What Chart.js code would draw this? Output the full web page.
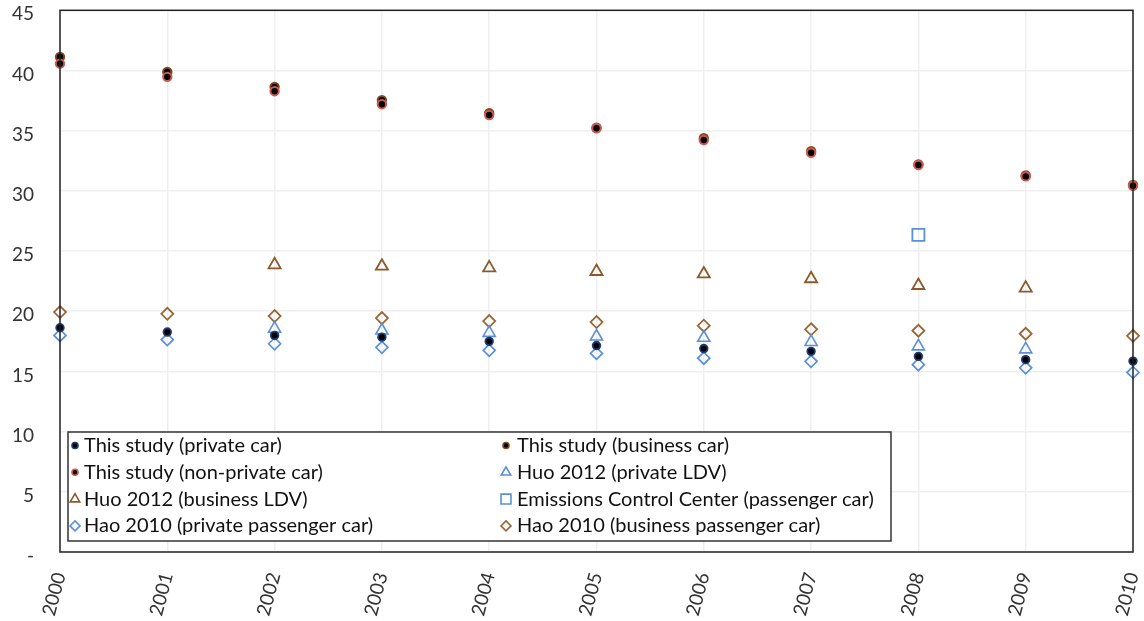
<!DOCTYPE html>
<html><head><meta charset="utf-8">
<script src="https://cdn.jsdelivr.net/npm/chart.js@4.4.0/dist/chart.umd.min.js"></script>
<style>html,body{margin:0;padding:0;background:#fff}#wrap{position:relative;width:1144px;height:621px}</style>
</head><body><div id="wrap"><canvas id="c" width="1144" height="621"></canvas></div>
<script>
const years = ['2000','2001','2002','2003','2004','2005','2006','2007','2008','2009','2010'];
const yTickValues = [0,5,10,15,20,25,30,35,40,45];
const labels = ['This study (private car)','This study (business car)','This study (non-private car)','Huo 2012 (private LDV)','Huo 2012 (business LDV)','Emissions Control Center (passenger car)','Hao 2010 (private passenger car)','Hao 2010 (business passenger car)'];
const privateCar  = [18.63,18.27,17.99,17.85,17.50,17.15,16.90,16.67,16.25,15.98,15.86];
const businessCar = [41.13,39.88,38.64,37.54,36.46,35.24,34.38,33.30,32.20,31.28,30.50];
const nonPrivateCar = [40.57,39.47,38.28,37.20,36.30,35.20,34.22,33.17,32.15,31.20,30.42];
const huoPrivate  = [null,null,18.55,18.40,18.20,17.90,17.80,17.45,17.08,16.83,null];
const huoBusiness = [null,null,23.86,23.74,23.60,23.30,23.10,22.70,22.14,21.92,null];
const eccPassenger = [null,null,null,null,null,null,null,null,26.34,null,null];
const haoPrivate  = [17.99,17.64,17.30,17.00,16.75,16.50,16.10,15.84,15.56,15.30,14.92];
const haoBusiness = [19.93,19.79,19.60,19.43,19.18,19.10,18.80,18.50,18.38,18.13,17.96];

const FONT = 'Lato, "Open Sans", sans-serif';
const CLEAR = 'rgba(255,255,255,0)';
function ds(label, data, style, bg, border, r, bw, lr, order) {
  return {label, data, showLine:false, pointStyle:style, pointBackgroundColor:bg, pointBorderColor:border,
    backgroundColor:bg, borderColor:border, pointRadius:r, pointHoverRadius:r, pointBorderWidth:bw,
    legendRadius:lr, clip:false, order:order||0};
}
const datasets = [
  ds(labels[0], privateCar, 'circle', '#000', '#1F3A6E', 3.8, 1.8, 3, 0),
  ds(labels[1], businessCar, 'circle', '#000', '#7F4A1E', 4.2, 2, 3, 1),
  ds(labels[2], nonPrivateCar, 'circle', '#000', '#D0584E', 4.2, 2, 3, 0),
  ds(labels[3], huoPrivate, 'triangle', CLEAR, '#5B8FD9', 7, 1.6, 5.5, 0),
  ds(labels[4], huoBusiness, 'triangle', CLEAR, '#8B5A2B', 7, 1.8, 5.5, 0),
  ds(labels[5], eccPassenger, 'rect', CLEAR, '#5B8FD9', 8.5, 1.8, 7, 0),
  ds(labels[6], haoPrivate, 'rectRot', CLEAR, '#5B8FD9', 6, 1.7, 5, 0),
  ds(labels[7], haoBusiness, 'rectRot', CLEAR, '#9A6634', 6, 1.8, 5, 0)
];

function marker(ctx, style, r, x, y) {
  ctx.beginPath();
  if (style === 'circle') { ctx.arc(x, y, r, 0, Math.PI*2); }
  else if (style === 'triangle') {
    ctx.moveTo(x, y - r); ctx.lineTo(x + r*0.866, y + r*0.5); ctx.lineTo(x - r*0.866, y + r*0.5); ctx.closePath();
  } else if (style === 'rect') { const s = r*Math.SQRT1_2; ctx.rect(x - s, y - s, 2*s, 2*s); }
  else if (style === 'rectRot') { ctx.moveTo(x, y - r); ctx.lineTo(x + r, y); ctx.lineTo(x, y + r); ctx.lineTo(x - r, y); ctx.closePath(); }
  ctx.fill(); ctx.stroke();
}

const framePlugin = {
  id: 'frameAndLegend',
  afterDraw(chart) {
    const ctx = chart.ctx, a = chart.chartArea;
    ctx.save();
    ctx.strokeStyle = '#222'; ctx.lineWidth = 1.5;
    ctx.strokeRect(a.left, a.top, a.right - a.left, a.bottom - a.top);
    const L = {x: 68, y: 432, w: 823, h: 109};
    ctx.fillStyle = '#fff'; ctx.fillRect(L.x, L.y, L.w, L.h);
    ctx.strokeStyle = '#333'; ctx.lineWidth = 1.5; ctx.strokeRect(L.x, L.y, L.w, L.h);
    ctx.font = '20px ' + FONT; ctx.textBaseline = 'middle'; ctx.textAlign = 'left';
    chart.data.datasets.forEach((d, i) => {
      const col = i % 2, row = Math.floor(i / 2);
      const mx = col ? 506 : 75, tx = col ? 517 : 84, ty = 445.5 + row * 26.8;
      ctx.fillStyle = d.pointBackgroundColor; ctx.strokeStyle = d.pointBorderColor; ctx.lineWidth = Math.min(d.pointBorderWidth, 1.6);
      marker(ctx, d.pointStyle, d.legendRadius, mx, ty);
      ctx.fillStyle = '#111';
      ctx.fillText(d.label, tx, ty);
    });
    ctx.restore();
  }
};

new Chart(document.getElementById('c'), {
  type: 'line',
  data: { labels: years, datasets },
  plugins: [framePlugin],
  options: {
    responsive: false, animation: false, devicePixelRatio: 1,
    layout: { padding: { top: 9, right: 11, left: 0, bottom: 0 } },
    plugins: { legend: { display: false }, tooltip: { enabled: false } },
    scales: {
      x: {
        type: 'category', offset: false,
        grid: { color: '#efefef', lineWidth: 1.5, drawTicks: false },
        border: { display: false },
        ticks: { minRotation: 75, maxRotation: 75, padding: 18, color: '#333', font: { family: FONT, size: 19 } },
        afterFit(s) { s.height = 69; s.paddingLeft = 0; s.paddingRight = 0; }
      },
      y: {
        min: 0, max: 45,
        afterBuildTicks(s) { s.ticks = yTickValues.map(v => ({ value: v })); },
        grid: { color: '#efefef', lineWidth: 1.5, drawTicks: false },
        border: { display: false },
        ticks: { padding: 26, labelOffset: 4, color: '#333', font: { family: FONT, size: 19 },
          callback: v => v === 0 ? '-' : String(v) },
        afterFit(s) { s.width = 60; s.paddingTop = 0; s.paddingBottom = 0; }
      }
    }
  }
});
</script></body></html>
